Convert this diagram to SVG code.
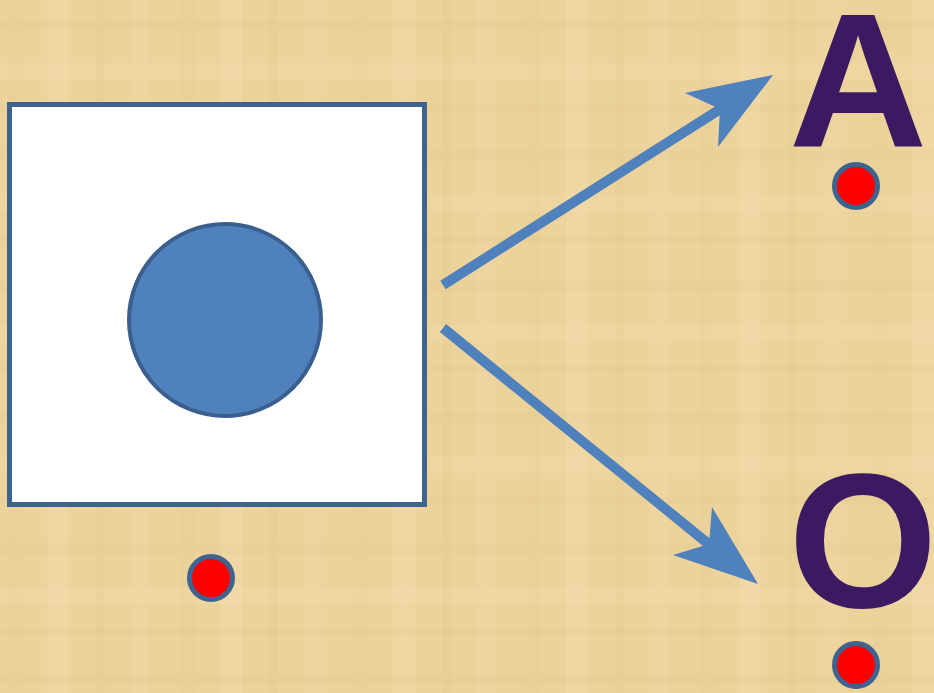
<svg xmlns="http://www.w3.org/2000/svg" width="934" height="693" viewBox="0 0 934 693">
  <style>
    .letter { font-family: "Liberation Sans", Arial, sans-serif; font-weight: bold; font-size: 192px; fill: #3b1a62; text-anchor: middle; }
    .dot { fill: #ff0000; stroke: #3e6390; stroke-width: 5; }
    .shaft { stroke: #4f81bd; stroke-width: 10; fill: none; }
    .head { fill: #4f81bd; }
  </style>
  <defs>
    <pattern id="papyrus" width="173" height="131" patternUnits="userSpaceOnUse">
      <rect width="173" height="131" fill="#ecd39c"/>
      <rect x="8" y="0" width="14" height="131" fill="#dcc083" opacity="0.15"/>
      <rect x="47" y="0" width="22" height="131" fill="#f6e3b6" opacity="0.25"/>
      <rect x="96" y="0" width="9" height="131" fill="#d8ba7a" opacity="0.15"/>
      <rect x="131" y="0" width="18" height="131" fill="#f3ddad" opacity="0.2"/>
      <rect x="0" y="19" width="173" height="11" fill="#dcc083" opacity="0.12"/>
      <rect x="0" y="63" width="173" height="17" fill="#f5e2b4" opacity="0.2"/>
      <rect x="0" y="104" width="173" height="7" fill="#d8ba7a" opacity="0.12"/>
    </pattern>
  </defs>
  <rect width="934" height="693" fill="url(#papyrus)"/>

  <g id="box">
    <rect x="9.5" y="104.5" width="415" height="400" fill="#ffffff" stroke="#3e6390" stroke-width="5"/>
    <circle cx="225" cy="320" r="96" fill="#4f81bd" stroke="#3a5f8e" stroke-width="4"/>
  </g>

  <g id="dot-box">
    <circle class="dot" cx="211" cy="578" r="21.5"/>
  </g>

  <g id="node-A">
    <text class="letter" x="858" y="147">A</text>
    <circle class="dot" cx="856" cy="186" r="21.5"/>
  </g>

  <g id="node-O">
    <text class="letter" x="863" y="607">O</text>
    <circle class="dot" cx="856" cy="665" r="21.5"/>
  </g>

  <g id="connectors">
    <line class="shaft" x1="443" y1="285" x2="722" y2="108"/>
    <polygon class="head" points="773,75 685,93 720,109 718,147"/>
    <line class="shaft" x1="443" y1="328" x2="711" y2="546"/>
    <polygon class="head" points="758,584 712,507 709,544 673,555"/>
  </g>
</svg>
